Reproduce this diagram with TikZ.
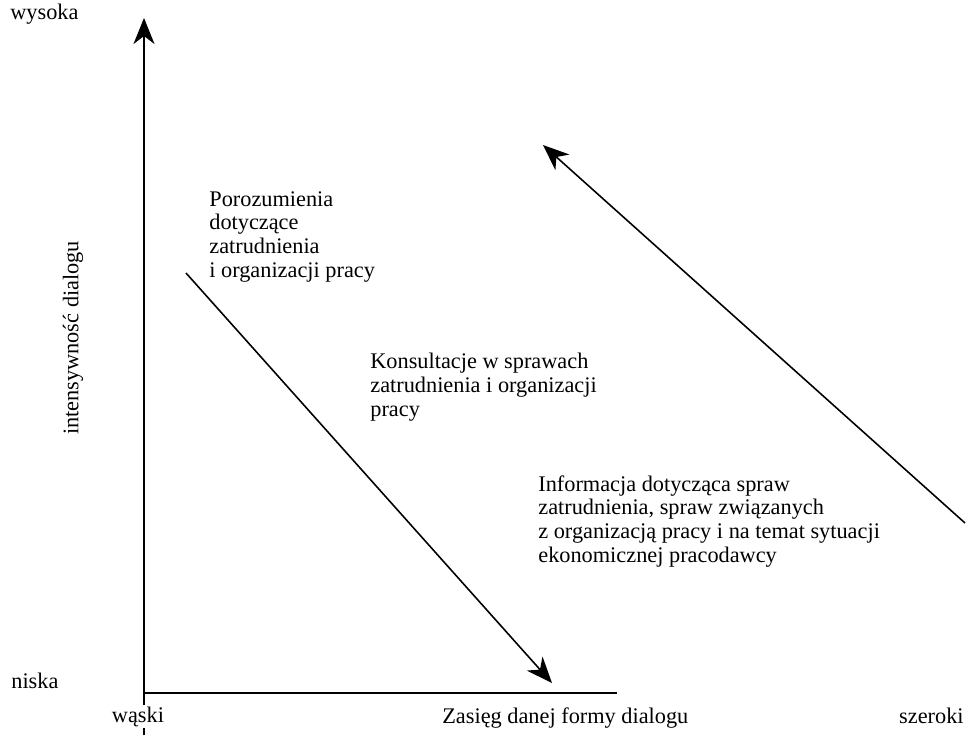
\documentclass[tikz,border=0pt]{standalone}
\usepackage{fontspec}
\setmainfont{Liberation Serif}
\usetikzlibrary{arrows.meta,positioning}

\begin{document}
\begin{tikzpicture}[x=0.02cm,y=-0.02cm,
  axis/.style={line width=1.1pt},
  trend/.style={line width=0.9pt},
  tip/.style={-{Stealth[length=0.52cm,width=0.42cm,inset=0.16cm]}},
  label/.style={inner sep=0pt,font=\fontsize{12.7}{13.45}\selectfont},
  block/.style={label,align=left,anchor=base west}]
\useasboundingbox (0,0) rectangle (968,735);

\coordinate (origin) at (144,693);
\coordinate (ytop) at (144,18);
\coordinate (ybot) at (144,735);
\coordinate (xend) at (617,693);

\draw[axis,tip] (ybot) -- (ytop);
\draw[axis] (origin) -- (xend);

\node[label,anchor=base west] (high) at (10,19) {wysoka};
\node[label,anchor=base west] (low) at (11,688) {niska};
\node[label,rotate=90] (intensity) at (73,338) {intensywność dialogu};
\node[label,anchor=base,fill=white,inner sep=1pt] (narrow) at (138,722) {wąski};
\node[label,anchor=base west] (range) at (442,723) {Zasięg danej formy dialogu};
\node[label,anchor=base east] (wide) at (964,723) {szeroki};

% base of a block = baseline of its last line
\node[block] (agreements) at (209,277) {Porozumienia\\dotyczące\\zatrudnienia\\i organizacji pracy};
\node[block] (consult) at (370,416) {Konsultacje w sprawach\\zatrudnienia i organizacji\\pracy};
\node[block] (info) at (538,562) {Informacja dotycząca spraw\\zatrudnienia, spraw związanych\\z organizacją pracy i na temat sytuacji\\ekonomicznej pracodawcy};

\coordinate (down start) at (186,273);
\coordinate (down end) at (552,683);
\coordinate (up start) at (965,523);
\coordinate (up end) at (543,145);

\draw[trend,tip] (down start) -- (down end);
\draw[trend,tip] (up start) -- (up end);

\end{tikzpicture}
\end{document}
